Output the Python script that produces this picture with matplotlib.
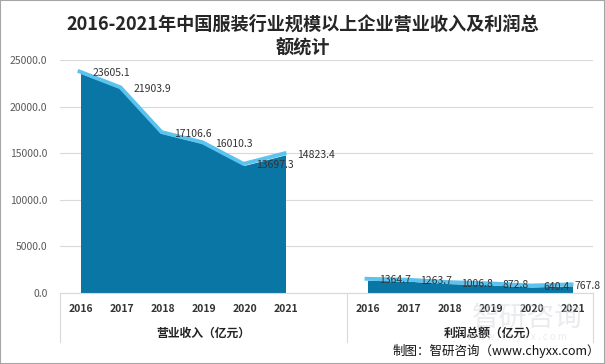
import matplotlib
matplotlib.use("Agg")
import matplotlib.pyplot as plt
import matplotlib.transforms as mtransforms
from matplotlib.patches import Rectangle

plt.rcParams['font.family'] = ['Noto Sans CJK SC', 'DejaVu Sans']

years = ["2016", "2017", "2018", "2019", "2020", "2021"]
revenue = [23605.1, 21903.9, 17106.6, 16010.3, 13697.3, 14823.4]
profit = [1364.7, 1263.7, 1006.8, 872.8, 640.4, 767.8]
groups = ["营业收入（亿元）", "利润总额（亿元）"]
yticks = [0, 5000, 10000, 15000, 20000, 25000]
title = "2016-2021年中国服装行业规模以上企业营业收入及利润总\n额统计"

W, H = 605, 364
fig = plt.figure(figsize=(W / 100, H / 100), dpi=100)
ax = fig.add_axes([60 / W, (H - 293) / H, (593 - 60) / W, (293 - 60) / H])

area_c = "#0a76a6"
line_c = "#5cc3ee"

x1 = list(range(6))
x2 = list(range(7, 13))
offset = mtransforms.ScaledTranslation(-1.0 / 100, 1.5 / 100, fig.dpi_scale_trans)
for xs, vals in ((x1, revenue), (x2, profit)):
    ax.fill_between(xs, 0, vals, color=area_c, lw=0, zorder=2)
    ax.plot(xs, vals, color=line_c, lw=2.8, solid_capstyle='projecting',
            solid_joinstyle='miter', zorder=3, transform=ax.transData + offset)
    for i, (x, v) in enumerate(zip(xs, vals)):
        dx = 12
        if xs is x2 and i == len(xs) - 1:
            dx = 2
        ax.annotate(f"{v:.1f}", (x, v), xytext=(dx, 0), textcoords='offset pixels',
                    ha='left', va='center', fontsize=7.5, color='#333333', zorder=4)

ax.set_xlim(-0.5, 12.5)
ax.set_ylim(0, 25000)
ax.set_yticks(yticks)
ax.set_yticklabels([f"{v:.1f}" for v in yticks], fontsize=7.5, color='#595959')
ax.tick_params(axis='y', length=0, pad=9)
ax.set_xticks([])
ax.grid(axis='y', color='#d9d9d9', lw=0.8, zorder=0)
ax.set_axisbelow(True)
for s in ['left', 'right', 'top']:
    ax.spines[s].set_visible(False)
ax.spines['bottom'].set_color('#d9d9d9')
ax.spines['bottom'].set_linewidth(0.8)

# category labels
trans = mtransforms.blended_transform_factory(ax.transData, fig.transFigure)
for xs in (x1, x2):
    for x, y in zip(xs, years):
        ax.text(x, (H - 309) / H, y, transform=trans, ha='center', va='center',
                fontsize=7.5, fontweight='bold', color='#333333')
ax.text(3, (H - 333) / H, groups[0], transform=trans, ha='center', va='center',
        fontsize=8.5, fontweight='bold', color='#222222')
ax.text(10, (H - 333) / H, groups[1], transform=trans, ha='center', va='center',
        fontsize=8.5, fontweight='bold', color='#222222', zorder=5)
for xb in (-0.5, 6.5, 12.5):
    ax.plot([xb, xb], [(H - 293) / H, (H - 342) / H], transform=trans,
            color='#d9d9d9', lw=0.8, clip_on=False)

# title
fig.text(0.5, (H - 36) / H, title, ha='center', va='center', fontsize=13.1,
         fontweight='bold', color='#262626', linespacing=1.3)

# watermark (faint)
fig.text(527 / W, (H - 318) / H, "智研咨询", ha='center', va='center', fontsize=20,
         color='#d5d9de', alpha=0.5, zorder=0)
fig.text(517 / W, (H - 337) / H, "w w w . c h y x x . c o m", ha='center', va='center',
         fontsize=7, color='#d5d9de', alpha=0.5, zorder=0)
fig.text(600 / W, (H - 351) / H, "制图：智研咨询（www.chyxx.com）", ha='right', va='center',
         fontsize=9, color='#111111')

# border
fig.patches.append(Rectangle((0, 0), 1, 1, transform=fig.transFigure, fill=False,
                             edgecolor='#a6a6a6', lw=1.5))

fig.savefig("out.png", dpi=100)
